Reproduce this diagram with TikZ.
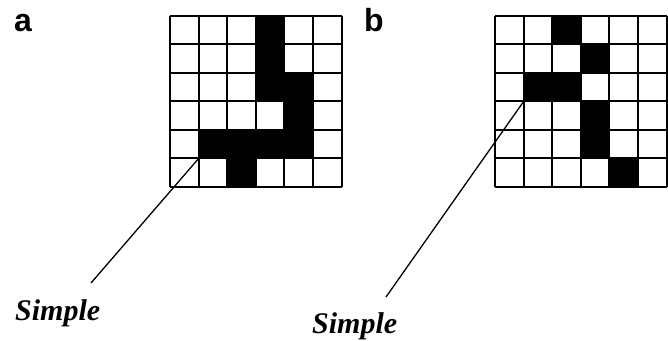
\documentclass[tikz,border=0pt]{standalone}
\usepackage{fontspec}
\setmainfont{Liberation Serif}
\setsansfont{Liberation Sans}
\usepackage{tikz}

\begin{document}
\begin{tikzpicture}[x=1pt,y=1pt,
    gridline/.style={line width=2pt},
    leader/.style={line width=1.3pt},
    tag/.style={font=\sffamily\bfseries\fontsize{32}{32}\selectfont, inner sep=0pt, anchor=base west},
    caption/.style={font=\bfseries\itshape\fontsize{30}{30}\selectfont, inner sep=0pt, anchor=base west}]
    \useasboundingbox (0,0) rectangle (668,340);

    % Draw black cells of grid a (column/row, row counted from top)
    \foreach \c/\r in {4/1,4/2,4/3,5/3,5/4,2/5,3/5,4/5,5/5,3/6}
        \fill (141.4+28.6*\c, 324-28.5*\r) rectangle ++(28.6,28.5);

    % Draw black cells of grid b
    \foreach \c/\r in {3/1,4/2,2/3,3/3,4/4,4/5,5/6}
        \fill (466.4+28.6*\c, 324-28.5*\r) rectangle ++(28.6,28.5);

    % Draw grid lines
    \foreach \x in {170,495} {
        \foreach \i in {0,...,6} {
            \draw[gridline] (\x+28.6*\i, 153) -- (\x+28.6*\i, 324);
            \draw[gridline] (\x, 153+28.5*\i) -- (\x+171.6, 153+28.5*\i);
        }
    }

    % Labels
    \node[tag] (taga) at (14,308) {a};
    \node[tag] (tagb) at (364,308) {b};
    \node[caption] (simplea) at (15,20) {Simple};
    \node[caption] (simpleb) at (312,7) {Simple};

    % Leader lines
    \coordinate (foota) at (91,57);
    \coordinate (tipa) at (198.6,181.5);
    \coordinate (footb) at (386,43);
    \coordinate (tipb) at (523.6,238.5);
    \draw[leader] (foota) -- (tipa);
    \draw[leader] (footb) -- (tipb);

\end{tikzpicture}
\end{document}
